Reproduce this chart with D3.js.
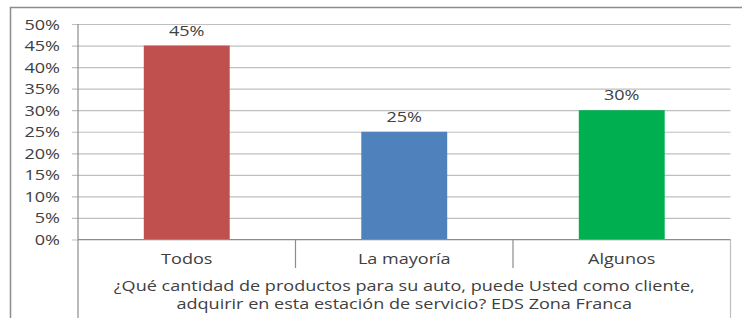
<!DOCTYPE html>
<html><head><meta charset="utf-8">
<script src="https://cdn.jsdelivr.net/npm/d3@7"></script>
<style>body{margin:0;background:#fff;}svg{display:block;}</style>
</head><body>
<script>
const categories = ["Todos", "La mayoría", "Algunos"];
const values = [0.45, 0.25, 0.30];
const barColors = ["#C0504D", "#4F81BD", "#00B050"];
const yTicks = [0, 0.05, 0.10, 0.15, 0.20, 0.25, 0.30, 0.35, 0.40, 0.45, 0.50];
const groupLabel = ["¿Qué cantidad de productos para su auto, puede Usted como cliente,", "adquirir en esta estación de servicio? EDS Zona Franca"];

(function () {
const W = 742, H = 318;
const pL = 78, pR = 730.5, pT = 24, pB = 239.5;
const font = "Open Sans, sans-serif";
const fs = "14px";
const sx = 1.29;
const textColor = "#404040";

const svg = d3.select("body").append("svg").attr("width", W).attr("height", H);
svg.append("rect").attr("width", W).attr("height", H).attr("fill", "#fff");
svg.append("rect").attr("x", 10.5).attr("y", 7.5).attr("width", W + 20).attr("height", H + 20)
  .attr("fill", "none").attr("stroke", "#8c8c8c").attr("stroke-width", 1.5);

const x = d3.scaleBand().domain(categories).range([pL, pR]).paddingInner(0.605).paddingOuter(0.3025);
const y = d3.scaleLinear().domain([0, 0.5]).range([pB, pT]);

function stretchText(sel, fx, fy) {
  sel.each(function (d, i) {
    d3.select(this).attr("x", 0).attr("y", 0)
      .attr("transform", `translate(${fx(d, i)},${fy(d, i)}) scale(${sx},1)`);
  });
}

const yAxis = d3.axisLeft(y).tickValues(yTicks).tickFormat(d3.format(".0%")).tickSize(-(pR - pL)).tickPadding(0);
const gy = svg.append("g").attr("transform", `translate(${pL},0)`).call(yAxis);
gy.select(".domain").remove();
gy.selectAll(".tick line").attr("stroke", "#bfbfbf").attr("stroke-width", 1.2).attr("x1", -6);
gy.selectAll(".tick text").attr("fill", textColor).style("font-family", font).style("font-size", fs)
  .attr("text-anchor", "end").attr("dy", "0.36em");
stretchText(gy.selectAll(".tick text"), () => -18, () => 0);

svg.selectAll("rect.bar").data(values).join("rect").attr("class", "bar")
  .attr("x", (d, i) => x(categories[i])).attr("width", x.bandwidth())
  .attr("y", d => y(d)).attr("height", d => y(0) - y(d))
  .attr("fill", (d, i) => barColors[i]);

const lbl = svg.selectAll("text.lbl").data(values).join("text").attr("class", "lbl")
  .attr("text-anchor", "middle").attr("fill", textColor)
  .style("font-family", font).style("font-size", fs)
  .text(d3.format(".0%"));
stretchText(lbl, (d, i) => x(categories[i]) + x.bandwidth() / 2, d => y(d) - 10);

const axisColor = "#8c8c8c";
svg.append("line").attr("x1", pL).attr("x2", pL).attr("y1", pT).attr("y2", H)
  .attr("stroke", axisColor).attr("stroke-width", 1.2);
svg.append("line").attr("x1", pL).attr("x2", pR).attr("y1", pB).attr("y2", pB)
  .attr("stroke", axisColor).attr("stroke-width", 1.2);
svg.append("line").attr("x1", pR).attr("x2", pR).attr("y1", pB).attr("y2", H)
  .attr("stroke", "#bfbfbf").attr("stroke-width", 1.2);
const step = x.step();
categories.slice(1).forEach(c => {
  const xp = x(c) - (step - x.bandwidth()) / 2;
  svg.append("line").attr("x1", xp).attr("x2", xp).attr("y1", pB).attr("y2", 268)
    .attr("stroke", axisColor).attr("stroke-width", 1.2);
});

const cat = svg.selectAll("text.cat").data(categories).join("text").attr("class", "cat")
  .attr("text-anchor", "middle").attr("fill", textColor)
  .style("font-family", font).style("font-size", fs).text(d => d);
stretchText(cat, d => x(d) + x.bandwidth() / 2, () => 264);

const grp = svg.selectAll("text.grp").data(groupLabel).join("text").attr("class", "grp")
  .attr("text-anchor", "middle").attr("fill", textColor)
  .style("font-family", font).style("font-size", fs).text(d => d);
stretchText(grp, () => (pL + pR) / 2, (d, i) => 291 + i * 18);
})();
</script>
</body></html>
